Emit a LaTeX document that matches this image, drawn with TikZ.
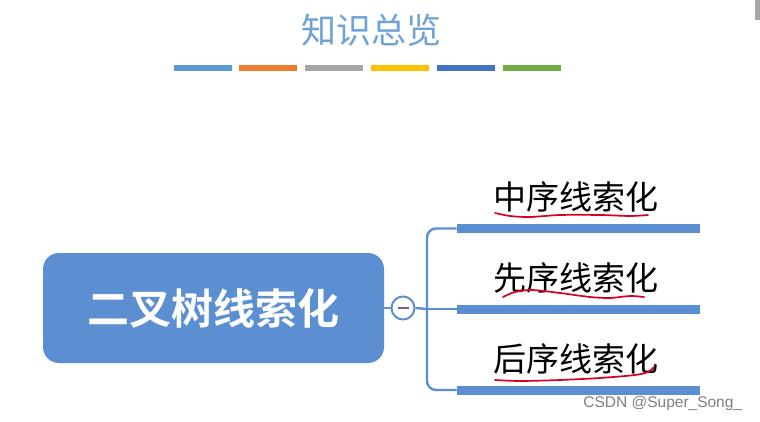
\documentclass[tikz,border=0pt]{standalone}
\usepackage{fontspec}
\setmainfont{Liberation Sans}
\newfontfamily\cjk{Noto Sans CJK SC}
\newfontfamily\cjkbold{Noto Sans CJK SC Bold}
\usetikzlibrary{positioning,calc}
\definecolor{titleblue}{HTML}{6FA3D6}
\definecolor{boxblue}{HTML}{5B8FD2}
\definecolor{barblue}{HTML}{5B9BD5}
\definecolor{barorange}{HTML}{ED7D31}
\definecolor{bargray}{HTML}{A5A5A5}
\definecolor{baryellow}{HTML}{FFC000}
\definecolor{bardark}{HTML}{4472C4}
\definecolor{bargreen}{HTML}{70AD47}
\definecolor{penred}{HTML}{D9001B}
\tikzset{
  every picture/.style={line width=0.75pt},
  colorbar/.style={draw=none, fill=#1, minimum width=58pt, minimum height=6pt, inner sep=0pt},
  rootbox/.style={fill=boxblue, draw=none, rounded corners=16pt, minimum width=341pt, minimum height=110pt,
    text=white, font=\cjkbold\fontsize{42}{46}\selectfont},
  leafbar/.style={fill=boxblue, draw=none, minimum width=243pt, minimum height=9pt, inner sep=0pt},
  leaftext/.style={font=\cjk\fontsize{33}{36}\selectfont, text=black, inner sep=0pt},
  link/.style={draw=boxblue, line width=2.4pt},
  redpen/.style={draw=penred, line width=1.7pt, line cap=round},
}

\begin{document}
\begin{tikzpicture}[x=1pt, y=-1pt]
    \useasboundingbox[fill=white] (0,0) rectangle (760,422);
    % 标题
    \node[font=\cjk\fontsize{35}{38}\selectfont, text=titleblue] (title) at (371,30) {知识总览};
    \foreach \cx/\col [count=\i] in {203/barblue, 267.5/barorange, 334/bargray, 400/baryellow, 465.5/bardark, 532/bargreen}
        \node[colorbar=\col] (bar\i) at (\cx,68) {};
    % 右上角小块
    \fill[gray!70] (755,0) rectangle (760,20);
    % 根节点
    \node[rootbox] (root) at (213.5,308) {二叉树线索化};
    \node[circle, draw=boxblue, fill=white, line width=2pt, minimum size=23pt, inner sep=0pt] (toggle) at (403,308) {};
    \draw[line width=1.8pt, draw=gray!70!violet] ($(toggle.center)+(-5.5,0)$) -- ($(toggle.center)+(5.5,0)$);
    % 分支
    \node[leafbar] (inbar) at (578.5,228.5) {};
    \node[leafbar] (prebar) at (578.5,309) {};
    \node[leafbar] (postbar) at (578.5,390) {};
    \node[leaftext] (inlabel) at (576,197) {中序线索化};
    \node[leaftext] (prelabel) at (576,278) {先序线索化};
    \node[leaftext] (postlabel) at (576,359) {后序线索化};
    \coordinate (spine) at (427,309);
    \draw[link] (root.east) -- (toggle.west);
    \draw[link] (toggle.east) -- (spine);
    \draw[link, rounded corners=9pt] (spine) |- (inbar.west);
    \draw[link] (spine) -- (prebar.west);
    \draw[link, rounded corners=9pt] (spine) |- (postbar.west);
    % 红色手写下划线
    \draw[redpen] plot[smooth] coordinates {(495,213) (510,216) (530,217) (560,215) (600,215) (630,216) (648,215)};
    \draw[redpen] plot[smooth] coordinates {(503,297) (515,292) (532,290) (560,293) (590,297) (610,298) (630,296) (644,297)};
    \draw[redpen] plot[smooth] coordinates {(495,380) (520,381) (560,380) (600,378) (635,375) (648,372) (654,367)};
    % 水印
    \node[font=\fontsize{15.5}{17}\selectfont, text=gray, anchor=west, inner sep=0pt] (mark) at (583,403) {CSDN @Super\_Song\_};
\end{tikzpicture}
\end{document}
